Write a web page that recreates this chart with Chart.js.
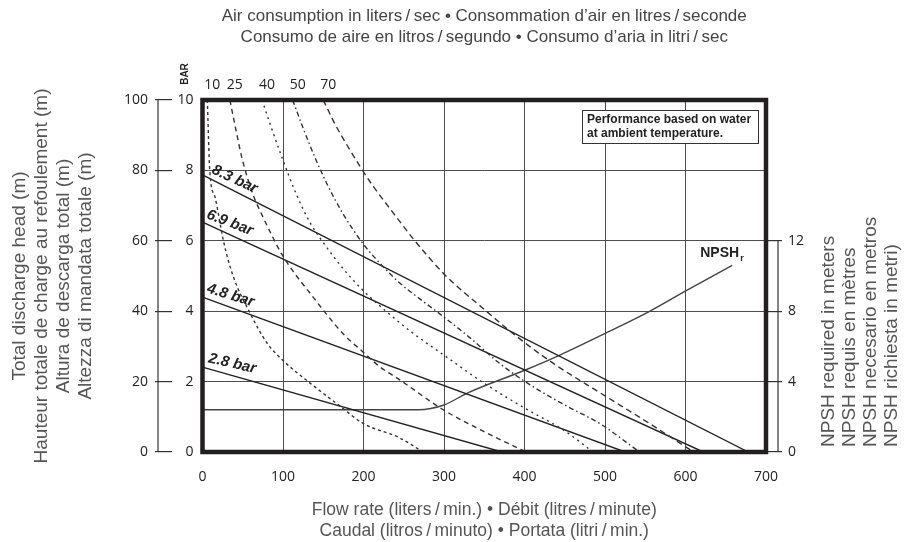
<!DOCTYPE html>
<html>
<head>
<meta charset="utf-8">
<script src="https://cdn.jsdelivr.net/npm/chart.js@4.4.0/dist/chart.umd.min.js"></script>
<style>
  html, body { margin: 0; padding: 0; background: #fff; }
  #wrap { width: 905px; height: 542px; }
</style>
</head>
<body>
<div id="wrap"><canvas id="chart" width="905" height="542"></canvas></div>
<script>
// Courbes de consommation d'air (l/s) : débit (l/min) et pression (bar)
const airLabels = ['10', '25', '40', '50', '70'];

const air10Flow = [6, 9, 16, 26, 38, 59, 80, 100, 134, 171, 199, 245, 274];
const air10Bar  = [10, 8.0, 7.2, 6.0, 5.0, 3.95, 3.1, 2.6, 1.95, 1.3, 0.82, 0.4, 0];

const air25Flow = [34, 42, 49, 63, 74, 86, 99, 112, 134, 150, 175, 199, 221, 245, 299, 348, 402];
const air25Bar  = [10, 9.1, 8.35, 7.3, 6.73, 6.16, 5.6, 5.15, 4.5, 4.03, 3.35, 2.85, 2.41, 2.05, 1.2, 0.6, 0];

const air40Flow = [74, 85, 99, 117, 134, 150, 175, 199, 229, 260, 300, 350, 400, 450, 485];
const air40Bar  = [10, 9.25, 8.35, 7.3, 6.5, 5.95, 5.2, 4.6, 3.98, 3.4, 2.75, 1.95, 1.25, 0.6, 0];

const air50Flow = [112, 125, 140, 155, 175, 200, 225, 245, 270, 299, 332, 370, 411, 453, 494, 543];
const air50Bar  = [10, 9.2, 8.35, 7.6, 6.75, 5.9, 5.25, 4.8, 4.35, 3.85, 3.25, 2.5, 1.85, 1.3, 0.8, 0];

const air70Flow = [150, 165, 180, 196, 212, 230, 245, 262, 300, 351, 391, 435, 494, 556, 610];
const air70Bar  = [10, 9.3, 8.7, 8.1, 7.55, 7.0, 6.55, 6.05, 5.06, 4.03, 3.27, 2.53, 1.68, 0.8, 0];

// Droites de pression d'air (début à débit nul, fin à hauteur nulle)
const barLabels = ['8.3 bar', '6.9 bar', '4.8 bar', '2.8 bar'];
const barStart  = [7.87, 6.53, 4.40, 2.41];
const barEnd    = [678, 622, 525, 372];

// NPSH requis (m)
const npshFlow = [0, 268, 300, 329, 401, 444, 501, 556, 602, 658];
const npshM    = [2.4, 2.4, 2.67, 3.35, 4.66, 5.51, 6.76, 8.01, 9.2, 10.6];
const npshTicks = [0, 4, 8, 12];

const airFlows = [air10Flow, air25Flow, air40Flow, air50Flow, air70Flow];
const airBars = [air10Bar, air25Bar, air40Bar, air50Bar, air70Bar];
const airDash = [[3, 3], [5, 4], [2, 4], [5, 3, 1.5, 3], [6, 4]];

const ink = '#222';
const sans = '"Liberation Sans", Arial, sans-serif';
const tickFont = { family: '"Open Sans", sans-serif', size: 14 };
const sl = '\u2009/\u2009';

const datasets = [];

airFlows.forEach((flows, i) => {
  datasets.push({
    label: airLabels[i] + ' l/s',
    data: flows.map((f, j) => ({ x: f, y: airBars[i][j] })),
    borderColor: '#333',
    borderWidth: 1.4,
    borderDash: airDash[i],
    pointRadius: 0,
    cubicInterpolationMode: 'monotone',
    yAxisID: 'y'
  });
});

barLabels.forEach((name, i) => {
  datasets.push({
    label: name,
    data: [{ x: 0, y: barStart[i] }, { x: barEnd[i], y: 0 }],
    borderColor: ink,
    borderWidth: 1.4,
    pointRadius: 0,
    yAxisID: 'y'
  });
});

datasets.push({
  label: 'NPSHr',
  data: npshFlow.map((f, j) => ({ x: f, y: npshM[j] })),
  borderColor: '#444',
  borderWidth: 1.4,
  pointRadius: 0,
  cubicInterpolationMode: 'monotone',
  yAxisID: 'yN'
});

// Cadre épais, axes secondaires et annotations
const decor = {
  id: 'decor',
  afterDraw(chart) {
    const ctx = chart.ctx;
    const a = chart.chartArea;
    const sx = chart.scales.x, sy = chart.scales.y, sm = chart.scales.yM, sn = chart.scales.yN;
    ctx.save();

    // cadre
    ctx.strokeStyle = '#231f20';
    ctx.lineWidth = 4.5;
    ctx.strokeRect(a.left, a.top, a.right - a.left, a.bottom - a.top);

    // axe des mètres à gauche
    ctx.lineWidth = 1.2;
    ctx.strokeStyle = '#333';
    ctx.beginPath();
    ctx.moveTo(sm.right - 14, sm.getPixelForValue(0));
    ctx.lineTo(sm.right - 14, sm.getPixelForValue(100));
    ctx.stroke();

    // axe NPSH à droite
    ctx.beginPath();
    ctx.moveTo(a.right + 12, sn.getPixelForValue(0));
    ctx.lineTo(a.right + 12, sn.getPixelForValue(12));
    ctx.stroke();

    // BAR
    ctx.fillStyle = ink;
    ctx.font = 'bold 10px ' + sans;
    ctx.textAlign = 'center';
    ctx.textBaseline = 'middle';
    ctx.save();
    ctx.translate(a.left - 17, a.top - 26);
    ctx.rotate(-Math.PI / 2);
    ctx.fillText('BAR', 0, 0);
    ctx.restore();

    // étiquettes des courbes d'air
    ctx.font = '14px "Open Sans", sans-serif';
    airFlows.forEach((flows, i) => {
      ctx.fillText(airLabels[i], sx.getPixelForValue(flows[0]) + 5, a.top - 15);
    });

    // étiquettes des droites de pression
    const labelAngle = [25, 21, 17, 13];
    const labelFlow = [40, 34, 35, 37];
    ctx.font = 'italic bold 15px ' + sans;
    barLabels.forEach((name, i) => {
      const f = labelFlow[i];
      const px = sx.getPixelForValue(f);
      const py = sy.getPixelForValue(barStart[i] * (1 - f / barEnd[i])) - 12;
      ctx.save();
      ctx.translate(px, py);
      ctx.rotate(labelAngle[i] * Math.PI / 180);
      ctx.fillText(name, 0, 0);
      ctx.restore();
    });

    // NPSHr
    const lx = sx.getPixelForValue(npshFlow[npshFlow.length - 1]);
    const ly = sn.getPixelForValue(npshM[npshM.length - 1]);
    ctx.textAlign = 'left';
    ctx.textBaseline = 'alphabetic';
    ctx.font = 'bold 14px ' + sans;
    ctx.fillText('NPSH', lx - 32, ly - 8);
    ctx.font = 'bold 9px ' + sans;
    ctx.fillText('r', lx + 8, ly - 4);

    // note
    const bx = a.right - 184, by = a.top + 10;
    ctx.lineWidth = 1;
    ctx.strokeStyle = '#333';
    ctx.fillStyle = '#fff';
    ctx.fillRect(bx, by, 176, 33);
    ctx.strokeRect(bx + 0.5, by + 0.5, 176, 33);
    ctx.fillStyle = ink;
    ctx.textBaseline = 'middle';
    ctx.font = 'bold 12px "Liberation Sans Narrow", ' + sans;
    ctx.fillText('Performance based on water', bx + 5, by + 9.5);
    ctx.fillText('at ambient temperature.', bx + 5, by + 23.5);

    // titre de l'axe NPSH
    const rightTitle = ['NPSH required in meters', 'NPSH requis en mètres', 'NPSH necesario en metros', 'NPSH richiesta in metri)'];
    ctx.fillStyle = '#555';
    ctx.font = '19px ' + sans;
    rightTitle.forEach((t, i) => {
      ctx.save();
      ctx.translate(829 + i * 21, a.bottom - 5);
      ctx.rotate(-Math.PI / 2);
      ctx.fillText(t, 0, 0);
      ctx.restore();
    });

    ctx.restore();
  }
};

new Chart(document.getElementById('chart'), {
  type: 'line',
  data: { datasets },
  options: {
    responsive: false,
    animation: false,
    layout: { padding: 0 },
    plugins: {
      legend: { display: false },
      tooltip: { enabled: false },
      title: {
        display: true,
        fullSize: false,
        text: ['Air consumption in liters' + sl + 'sec • Consommation d’air en litres' + sl + 'seconde',
               'Consumo de aire en litros' + sl + 'segundo • Consumo d’aria in litri' + sl + 'sec'],
        color: '#444',
        font: { family: sans, size: 17, weight: 'normal', lineHeight: 21 / 17 },
        padding: { top: 6, bottom: 52 }
      }
    },
    scales: {
      x: {
        type: 'linear',
        min: 0,
        max: 700,
        ticks: { stepSize: 100, color: ink, font: tickFont, padding: 17 },
        grid: { color: '#4d4d4d', lineWidth: 1, drawTicks: false },
        border: { display: false },
        title: {
          display: true,
          text: ['Flow rate (liters' + sl + 'min.) • Débit (litres' + sl + 'minute)',
                 'Caudal (litros' + sl + 'minuto) • Portata (litri' + sl + 'min.)'],
          color: '#555',
          font: { family: sans, size: 17.5, lineHeight: 21 / 17.5 },
          padding: { top: 0, bottom: 0 }
        },
        afterFit: s => { s.height = 90; }
      },
      y: {
        position: 'left',
        weight: 0,
        min: 0,
        max: 10,
        ticks: { stepSize: 2, color: ink, font: tickFont, padding: 9 },
        grid: { color: '#4d4d4d', lineWidth: 1, drawTicks: false },
        border: { display: false },
        afterFit: s => { s.width = 30.5; }
      },
      yM: {
        position: 'left',
        weight: 1,
        min: 0,
        max: 100,
        ticks: { stepSize: 20, color: ink, font: tickFont, padding: 7 },
        grid: { drawOnChartArea: false, tickLength: 17, color: '#333', lineWidth: 1.2 },
        border: { display: false },
        title: {
          display: true,
          text: ['Total discharge head (m)', 'Hauteur totale de charge au refoulement (m)',
                 'Altura de descarga total (m)', 'Altezza di mandata totale (m)'],
          color: '#555',
          font: { family: sans, size: 19, lineHeight: 22 / 19 },
          padding: { top: 9, bottom: 0 }
        },
        afterFit: s => { s.width = 172; }
      },
      yN: {
        position: 'right',
        min: 0,
        max: 20,
        afterBuildTicks: s => { s.ticks = npshTicks.map(v => ({ value: v })); },
        ticks: { color: ink, font: tickFont, padding: 6 },
        grid: { drawOnChartArea: false, tickLength: 16, color: '#333', lineWidth: 1.2 },
        border: { display: false },
        afterFit: s => { s.width = 139; }
      }
    }
  },
  plugins: [decor]
});
</script>
</body>
</html>
